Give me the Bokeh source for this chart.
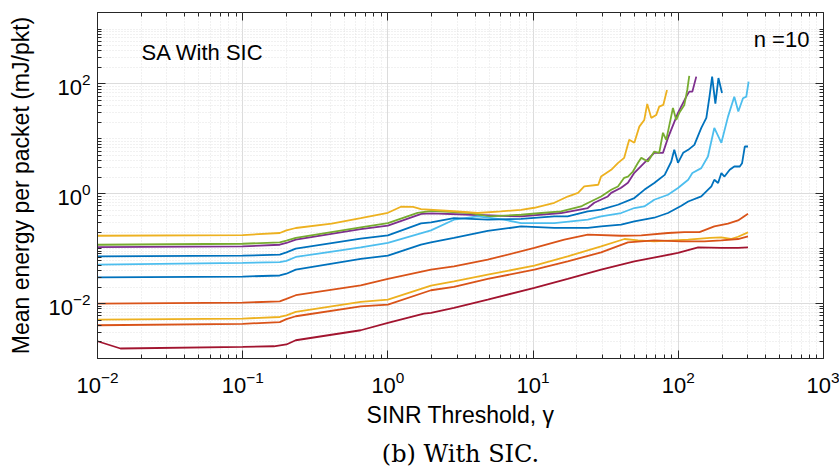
from bokeh.plotting import figure
from bokeh.models import FixedTicker, LogAxis, Label, Title, CustomJSTickFormatter
from bokeh.embed import file_html
from bokeh.resources import INLINE

# ---- data ----
x_b1 = [0.01, 0.1, 0.18, 0.2, 0.232, 0.65, 1.0, 1.69, 1.98, 2.85, 4.87, 8.26, 14.0, 23.8, 29.4, 40.4, 49.8, 68.3, 84.9, 105, 117, 144, 169, 177, 188, 198, 208, 226, 243, 265, 275, 287, 302]
y_b1 = [0.0301, 0.031, 0.0325, 0.035, 0.0415, 0.065, 0.0746, 0.118, 0.13, 0.157, 0.21, 0.254, 0.24, 0.24, 0.255, 0.273, 0.314, 0.366, 0.446, 0.605, 0.724, 0.893, 1.36, 1.8, 1.57, 2.38, 2.06, 2.73, 3.14, 3.14, 3.61, 7.25, 7.25]

x_o1 = [0.01, 0.1, 0.18, 0.2, 0.232, 0.65, 1.0, 1.98, 2.85, 4.87, 10.2, 16.4, 23.8, 40.4, 55.6, 84.9, 110, 140, 177, 220, 258, 302]
y_o1 = [0.01, 0.0104, 0.011, 0.0122, 0.0142, 0.0215, 0.0281, 0.0415, 0.0477, 0.063, 0.103, 0.146, 0.18, 0.172, 0.175, 0.193, 0.2, 0.2, 0.254, 0.285, 0.327, 0.433]

x_y2 = [0.01, 0.1, 0.18, 0.2, 0.232, 0.65, 1.0, 1.98, 2.85, 4.87, 10.2, 17.3, 29.4, 42.6, 52.8, 68.3, 117, 165, 198, 230, 258, 302]
y_y2 = [0.00512, 0.00534, 0.0057, 0.0061, 0.00706, 0.0107, 0.0118, 0.0212, 0.0254, 0.0337, 0.0491, 0.0724, 0.11, 0.15, 0.142, 0.136, 0.146, 0.157, 0.16, 0.15, 0.165, 0.198]

x_p = [0.01, 0.1, 0.18, 0.2, 0.232, 0.65, 1.0, 1.7, 2.0, 3.73, 8.26, 15.6, 23.8, 26.4, 32.7, 34.5, 40.4, 45.0, 49.8, 58.3, 68.3, 78.4, 84.9, 99.5, 113.5, 119, 125, 133]
y_p = [0.107, 0.11, 0.118, 0.127, 0.146, 0.228, 0.262, 0.43, 0.44, 0.415, 0.386, 0.446, 0.55, 0.686, 0.893, 1.04, 1.29, 1.58, 2.41, 3.66, 5.56, 5.56, 10.4, 29.7, 58.7, 72.4, 72.4, 136]

x_g = [0.01, 0.1, 0.18, 0.2, 0.232, 0.65, 1.0, 1.6, 2.0, 3.73, 4.87, 8.26, 11.4, 15.6, 21.4, 22.5, 29.4, 34.5, 38.4, 42.4, 45.0, 48.7, 52.8, 55.6, 61.8, 68.3, 73.9, 78.4, 82.6, 91.9, 96.8, 101.6, 110, 115.3, 119]
y_g = [0.118, 0.123, 0.13, 0.14, 0.157, 0.244, 0.293, 0.45, 0.49, 0.446, 0.386, 0.415, 0.446, 0.477, 0.588, 0.63, 0.893, 1.18, 1.36, 1.95, 2.06, 2.54, 3.66, 4.51, 3.87, 5.87, 5.56, 12.9, 9.6, 36.6, 22.1, 29.7, 41.5, 77.8, 140]

x_lb = [0.01, 0.1, 0.18, 0.2, 0.232, 0.65, 1.0, 1.98, 2.85, 4.15, 6.3, 8.26, 14.0, 23.8, 29.4, 40.4, 49.8, 58.3, 68.3, 84.9, 99.5, 117, 125, 144, 160, 177, 198, 220, 243, 259, 279, 294, 305]
y_lb = [0.0512, 0.055, 0.057, 0.06, 0.0706, 0.106, 0.127, 0.215, 0.337, 0.386, 0.337, 0.293, 0.293, 0.337, 0.386, 0.446, 0.55, 0.588, 0.778, 0.96, 1.27, 1.8, 2.38, 2.93, 4.77, 15.8, 8.46, 25.4, 58.7, 31.4, 55.0, 58.7, 110]

x_dr = [0.01, 0.0144, 0.1, 0.164, 0.2, 0.232, 0.65, 1.0, 1.77, 1.98, 2.85, 4.87, 10.2, 17.3, 29.4, 49.8, 99.5, 137, 198, 258, 302]
y_dr = [0.00206, 0.00152, 0.00163, 0.00167, 0.0018, 0.00215, 0.00327, 0.00446, 0.00658, 0.00678, 0.00835, 0.0118, 0.0193, 0.0281, 0.0415, 0.0588, 0.0835, 0.106, 0.103, 0.103, 0.106]

x_b2 = [0.01, 0.1, 0.18, 0.2, 0.232, 0.65, 1.0, 1.69, 1.98, 2.85, 4.87, 8.26, 14.0, 17.3, 23.8, 29.4, 38.4, 49.8, 58.3, 68.3, 80.6, 89.5, 93.8, 99.5, 108, 117, 129, 144, 156, 164, 171, 180, 189, 200]
y_b2 = [0.0724, 0.0746, 0.078, 0.0857, 0.1, 0.152, 0.175, 0.29, 0.30, 0.361, 0.337, 0.35, 0.386, 0.386, 0.477, 0.512, 0.631, 0.835, 1.18, 1.57, 2.21, 3.87, 6.31, 3.66, 5.56, 6.31, 7.78, 15.8, 24.1, 58.7, 136, 44.0, 128, 68.6]

x_o2 = [0.01, 0.1, 0.18, 0.2, 0.232, 0.65, 1.0, 1.98, 2.85, 4.87, 10.2, 17.3, 29.4, 45.0, 68.3, 105, 151, 198, 258, 302]
y_o2 = [0.00403, 0.00428, 0.0046, 0.0052, 0.00588, 0.0089, 0.0096, 0.0175, 0.0201, 0.0281, 0.0415, 0.0588, 0.0857, 0.13, 0.142, 0.136, 0.136, 0.142, 0.15, 0.167]

x_y1 = [0.01, 0.1, 0.18, 0.2, 0.232, 0.41, 0.65, 1.0, 1.23, 1.49, 1.69, 2.85, 4.15, 6.0, 8.26, 10.2, 14.0, 17.3, 20.4, 22.5, 28.1, 29.4, 34.5, 38.5, 42.4, 45.9, 49.8, 53.9, 58.3, 61.1, 65.1, 70.5, 73.9, 78.8, 83.6]
y_y1 = [0.172, 0.177, 0.193, 0.215, 0.238, 0.285, 0.36, 0.45, 0.58, 0.575, 0.527, 0.48, 0.446, 0.477, 0.51, 0.556, 0.686, 0.89, 1.04, 1.36, 1.46, 2.06, 2.73, 3.66, 4.51, 9.6, 8.46, 16.7, 22.1, 43.3, 24.1, 27.3, 38.7, 41.5, 77.8]

series = [
    (x_b1, y_b1, "#0072BD"),
    (x_o1, y_o1, "#D95319"),
    (x_y2, y_y2, "#EDB120"),
    (x_p, y_p, "#7E2F8E"),
    (x_g, y_g, "#77AC30"),
    (x_lb, y_lb, "#4DBEEE"),
    (x_dr, y_dr, "#A2142F"),
    (x_b2, y_b2, "#0072BD"),
    (x_o2, y_o2, "#D95319"),
    (x_y1, y_y1, "#EDB120"),
]

x_major = [1e-2, 1e-1, 1e0, 1e1, 1e2, 1e3]
y_major = [1e-2, 1e0, 1e2]
x_minor = [k * 10.0 ** n for n in range(-2, 3) for k in range(2, 10)]
y_minor = [k * 10.0 ** n for n in range(-3, 4) for k in range(1, 10)
           if not (k == 1 and n in (-2, 0, 2))]

FONT = "Liberation Sans"
AX = "#262626"

p = figure(width=839, height=474, x_axis_type="log", y_axis_type="log",
           x_range=(1e-2, 1e3), y_range=(1e-3, 2e3),
           output_backend="svg", toolbar_location=None,
           min_border_left=97, min_border_right=16, min_border_top=12, min_border_bottom=115)
p.background_fill_color = "white"
p.border_fill_color = "white"
p.outline_line_color = AX
p.outline_line_width = 1

xt = FixedTicker(ticks=x_major, minor_ticks=x_minor)
yt = FixedTicker(ticks=y_major, minor_ticks=y_minor)
p.xaxis.ticker = xt
p.yaxis.ticker = yt
p.xgrid.ticker = xt
p.ygrid.ticker = yt

for g in (p.xgrid, p.ygrid):
    g.grid_line_color = "#dcdcdc"
    g.grid_line_width = 1
    g.minor_grid_line_color = "#e2e2e2"
    g.minor_grid_line_dash = "1 2"

for ax in (p.xaxis[0], p.yaxis[0]):
    ax.axis_line_color = AX
    ax.major_tick_line_color = AX
    ax.minor_tick_line_color = AX
    ax.major_tick_in = 8
    ax.major_tick_out = 0
    ax.minor_tick_in = 4
    ax.minor_tick_out = 0
    ax.major_label_text_font = FONT
    ax.major_label_text_font_size = "22px"
    ax.major_label_text_color = "black"
    ax.axis_label_text_font = FONT
    ax.axis_label_text_font_size = "23px"
    ax.axis_label_text_font_style = "normal"
    ax.axis_label_text_color = "black"

p.xaxis.axis_label = "SINR Threshold, γ"
p.yaxis.axis_label = "Mean energy per packet (mJ/pkt)"
p.xaxis.major_label_standoff = 12
p.yaxis.major_label_standoff = 7
p.xaxis.axis_label_standoff = 6
p.yaxis.axis_label_standoff = 11

# mirrored tick-only axes (box)
blank = CustomJSTickFormatter(code="return ''")
top = LogAxis(ticker=xt, formatter=blank, major_label_text_font_size="1px", major_label_standoff=0,
              axis_line_color=None, major_tick_line_color=AX, minor_tick_line_color=AX,
              major_tick_in=8, major_tick_out=0, minor_tick_in=4, minor_tick_out=0)
right = LogAxis(ticker=yt, formatter=blank, major_label_text_font_size="1px", major_label_standoff=0,
                axis_line_color=None, major_tick_line_color=AX, minor_tick_line_color=AX,
                major_tick_in=8, major_tick_out=0, minor_tick_in=4, minor_tick_out=0)
p.add_layout(top, "above")
p.add_layout(right, "right")

for xs, ys, c in series:
    p.line(xs, ys, line_color=c, line_width=1.8)

p.add_layout(Label(x=0.0201, y=380, text="SA With SIC", text_baseline="middle",
                   text_font=FONT, text_font_size="22px", text_color="black"))
p.add_layout(Label(x=800, y=658, text="n =10", text_align="right", text_baseline="middle",
                   text_font=FONT, text_font_size="22px", text_color="black"))

cap = Title(text="(b) With SIC.", align="center", text_font="DejaVu Serif",
            text_font_size="24px", text_font_style="normal", text_color="black", standoff=14)
p.add_layout(cap, "below")

open("out.html", "w").write(file_html(p, INLINE))
